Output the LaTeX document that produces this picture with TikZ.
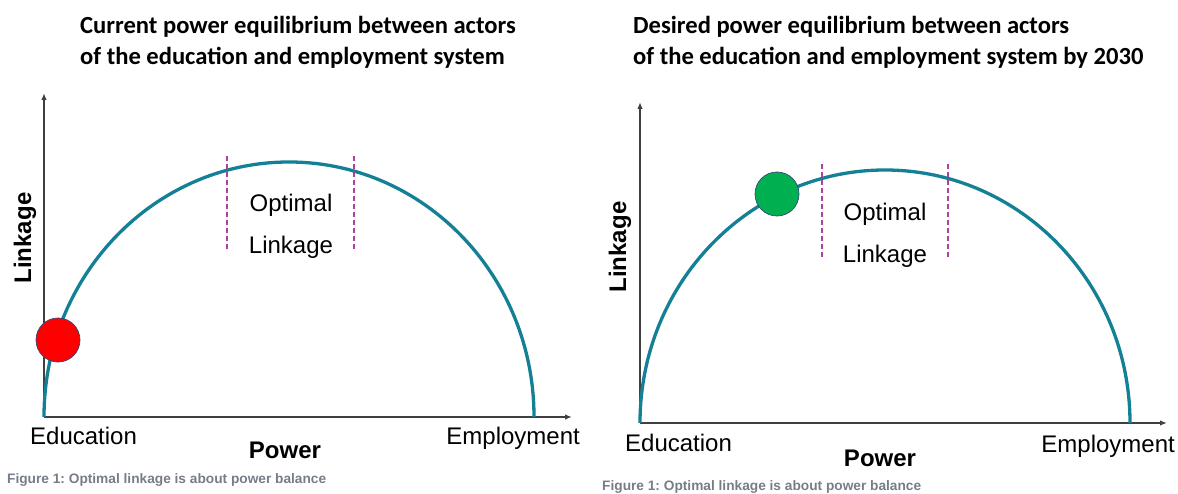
\documentclass[tikz,border=0pt]{standalone}
\usepackage{fontspec}
\setmainfont{Liberation Sans}
\newfontfamily\titlefont{Carlito}
\usetikzlibrary{arrows.meta}
\frenchspacing

\definecolor{curveteal}{RGB}{20,128,150}
\definecolor{optpink}{RGB}{176,64,160}
\definecolor{axisgray}{RGB}{64,64,64}
\definecolor{capgray}{RGB}{118,125,135}
\definecolor{dotred}{RGB}{255,0,0}
\definecolor{dotgreen}{RGB}{0,176,80}
\definecolor{dotrim}{RGB}{50,70,120}

\tikzset{
  axisline/.style={axisgray, line width=1.7pt, -{Latex[length=7pt,width=5.5pt]}},
  powercurve/.style={curveteal, line width=3.3pt},
  optline/.style={optpink, line width=1.6pt, dash pattern=on 5pt off 3pt},
  actordot/.style={draw=dotrim, line width=0.7pt},
  titletext/.style={font=\titlefont\bfseries\fontsize{24.6}{29}\selectfont, anchor=base west, inner sep=0pt},
  axislabel/.style={font=\fontsize{24}{28}\selectfont, inner sep=0pt},
  axisname/.style={font=\bfseries\fontsize{24}{28}\selectfont, inner sep=0pt},
  captext/.style={font=\bfseries\fontsize{13.7}{16}\selectfont, text=capgray, anchor=base west, inner sep=0pt}
}

\begin{document}
\begin{tikzpicture}[x=1pt,y=-1pt]
\useasboundingbox (0,0) rectangle (1178,494);

% left: current equilibrium
\node[titletext] (titleLa) at (80,34) {Current power equilibrium between actors};
\node[titletext] (titleLb) at (80,65) {of the education and employment system};

\coordinate (oL) at (44,417);
\coordinate (yL) at (44,93);
\coordinate (xL) at (572,417);
\draw[axisline] (oL) -- (yL);
\draw[axisline] (oL) -- (xL);

\draw[powercurve] (oL) arc[start angle=180, end angle=360, x radius=245, y radius=255];
\draw[optline] (227,156) -- (227,249);
\draw[optline] (354,156) -- (354,249);
\node[axislabel, anchor=base] (optL) at (291,212) {Optimal};
\node[axislabel, anchor=base] (linkL) at (291,254) {Linkage};

\filldraw[actordot, fill=dotred] (58,340) circle (22);

\node[axislabel, anchor=base west] (eduL) at (30,444) {Education};
\node[axislabel, anchor=base east] (empL) at (580,444) {Employment};
\node[axisname, anchor=base] (powL) at (285,458) {Power};
\node[axisname, rotate=90] (lnkL) at (25,238) {Linkage};
\node[captext] (capL) at (7,483) {Figure 1: Optimal linkage is about power balance};

% right: desired equilibrium by 2030
\node[titletext] (titleRa) at (633,34) {Desired power equilibrium between actors};
\node[titletext] (titleRb) at (633,65) {of the education and employment system by 2030};

\coordinate (oR) at (640,423);
\coordinate (yR) at (640,102);
\coordinate (xR) at (1167,423);
\draw[axisline] (oR) -- (yR);
\draw[axisline] (oR) -- (xR);

\draw[powercurve] (oR) arc[start angle=180, end angle=360, x radius=245, y radius=253];
\draw[optline] (822,164) -- (822,257);
\draw[optline] (948,164) -- (948,257);
\node[axislabel, anchor=base] (optR) at (885,221) {Optimal};
\node[axislabel, anchor=base] (linkR) at (885,263) {Linkage};

\filldraw[actordot, fill=dotgreen] (777,194) circle (22);

\node[axislabel, anchor=base west] (eduR) at (625,451) {Education};
\node[axislabel, anchor=base east] (empR) at (1175,452) {Employment};
\node[axisname, anchor=base] (powR) at (880,466) {Power};
\node[axisname, rotate=90] (lnkR) at (620,247) {Linkage};
\node[captext] (capR) at (602,490) {Figure 1: Optimal linkage is about power balance};
\end{tikzpicture}
\end{document}
